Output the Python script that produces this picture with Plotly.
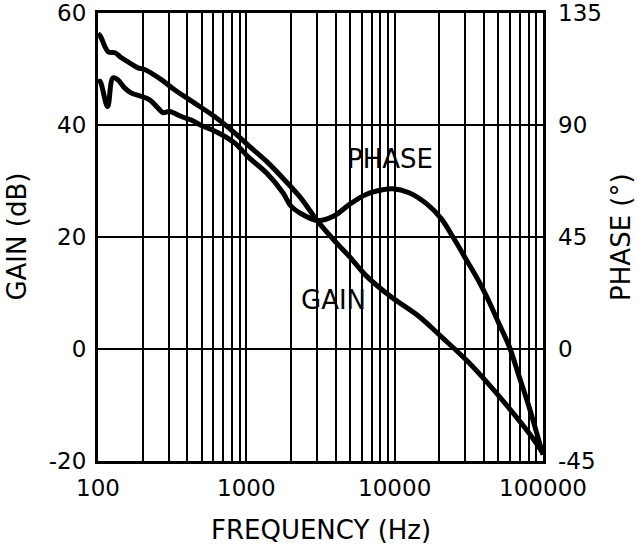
import plotly.graph_objects as go

# ---- data ----
gain_freq = [100, 104, 117, 130, 144, 163, 186, 206, 267, 328, 448, 610, 833,
             1050, 1370, 1765, 2290, 3030, 4040, 4960, 6410, 9250, 14600,
             20600, 31000, 42400, 62700, 80400, 100000]
gain_db = [56.3, 55.8, 53.1, 52.9, 52.0, 51.1, 50.2, 49.9, 48.1, 46.3, 43.9,
           41.5, 38.6, 36.2, 33.5, 30.5, 27.2, 22.8, 19.0, 16.5, 13.1, 9.5,
           5.8, 2.2, -2.2, -6.1, -11.4, -15.0, -18.6]

phase_freq = [100, 103, 116, 126, 136, 151, 168, 196, 223, 254, 274, 304, 365,
              426, 498, 580, 679, 833, 1050, 1370, 1765, 2000, 2290, 3030,
              3860, 4960, 6410, 8300, 9680, 12500, 16300, 20600, 24600, 30400,
              37400, 43700, 50900, 59100, 69000, 80400, 93500, 100000]
phase_deg = [106.9, 107.6, 97.4, 108.9, 108.2, 104.9, 102.8, 101.5, 100.1,
             96.8, 95.0, 95.4, 93.4, 92.0, 89.8, 88.2, 86.2, 82.8, 76.7, 70.7,
             62.8, 57.4, 54.7, 51.6, 53.3, 58.1, 62.1, 64.0, 64.4, 62.8, 58.5,
             52.4, 45.2, 35.9, 26.6, 18.5, 9.7, 1.1, -11.0, -23.1, -36.5, -42.5]

x_major = [100, 1000, 10000, 100000]
x_grid = [m * d for d in [100, 1000, 10000] for m in range(1, 10)] + [100000]
x_text = [str(v) if v in x_major else "" for v in x_grid]
gain_ticks = [-20, 0, 20, 40, 60]
gain_text = ["-20", "0", "20", "40", "60"]
phase_ticks = [-45, 0, 45, 90, 135]
phase_text = ["-45", "0", "45", "90", "135"]

FONT = "DejaVu Sans"
FS = 23
TS = 26

fig = go.Figure()
fig.add_trace(go.Scatter(x=gain_freq, y=gain_db, mode="lines", name="GAIN",
                         line=dict(color="black", width=5, shape="spline", smoothing=1.0),
                         showlegend=False))
fig.add_trace(go.Scatter(x=phase_freq, y=phase_deg, mode="lines", name="PHASE",
                         yaxis="y2",
                         line=dict(color="black", width=5, shape="spline", smoothing=1.0),
                         showlegend=False))

fig.update_layout(
    width=637, height=548,
    margin=dict(l=98, r=94, t=13, b=87, autoexpand=False),
    paper_bgcolor="white", plot_bgcolor="white",
    font=dict(family=FONT, size=FS, color="black"),
    xaxis=dict(type="log", range=[2, 5], tickvals=x_grid, ticktext=x_text,
               showgrid=True, gridcolor="black", gridwidth=2,
               showline=True, linecolor="black", linewidth=3, mirror=True,
               ticks="", ticklabelstandoff=4, zeroline=False, automargin=False,
               ticklabeloverflow="allow"),
    yaxis=dict(range=[-20, 60], tickvals=gain_ticks, ticktext=gain_text,
               showgrid=True, gridcolor="black", gridwidth=2,
               showline=True, linecolor="black", linewidth=3, mirror=True,
               ticks="", ticklabelstandoff=4, zeroline=False, automargin=False,
               ticklabeloverflow="allow"),
    yaxis2=dict(range=[-45, 135], tickvals=phase_ticks, ticktext=phase_text,
                overlaying="y", side="right", showgrid=False, zeroline=False,
                ticks="", ticklabelstandoff=14, automargin=False,
                ticklabeloverflow="allow"),
    annotations=[
        dict(text="PHASE", x=3.968, y=34.0, xref="x", yref="y", showarrow=False,
             font=dict(family=FONT, size=TS)),
        dict(text="GAIN", x=3.590, y=8.8, xref="x", yref="y", showarrow=False,
             font=dict(family=FONT, size=TS)),
        dict(text="GAIN (dB)", x=-0.183, y=0.5, xref="paper", yref="paper",
             textangle=-90, showarrow=False, xanchor="center", yanchor="middle",
             font=dict(family=FONT, size=TS)),
        dict(text="PHASE (°)", x=1.175, y=0.5, xref="paper", yref="paper",
             textangle=-90, showarrow=False, xanchor="center", yanchor="middle",
             font=dict(family=FONT, size=TS)),
        dict(text="FREQUENCY (Hz)", x=0.5, y=-0.154, xref="paper", yref="paper",
             showarrow=False, xanchor="center", yanchor="middle",
             font=dict(family=FONT, size=TS)),
    ],
)

fig.write_html("out.html", config={"displayModeBar": False},
               post_script="document.body.style.margin='0';document.body.style.overflow='hidden';")
